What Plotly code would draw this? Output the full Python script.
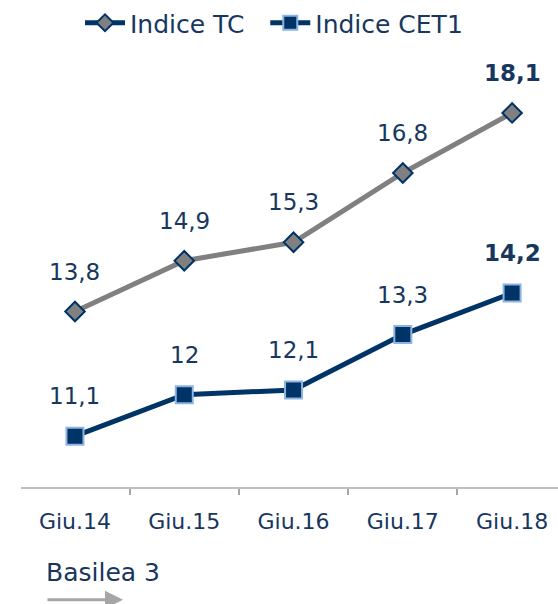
import plotly.graph_objects as go

categories = ["Giu.14", "Giu.15", "Giu.16", "Giu.17", "Giu.18"]
tc_values = [13.8, 14.9, 15.3, 16.8, 18.1]
cet1_values = [11.1, 12.0, 12.1, 13.3, 14.2]
series_names = ["Indice TC", "Indice CET1"]
note_text = "Basilea 3"

NAVY = "#003366"
TEXT = "#17375E"
GRAY = "#808080"
LIGHTBLUE = "#8DB4E2"
FONT = "DejaVu Sans"


def fmt(v):
    return str(int(v)) if float(v).is_integer() else f"{v}".replace(".", ",")


fig = go.Figure()

fig.add_trace(go.Scatter(
    x=categories, y=tc_values, mode="lines+markers", showlegend=False,
    line=dict(color=GRAY, width=5),
    marker=dict(symbol="diamond", size=15, color=GRAY, line=dict(color=NAVY, width=2)),
    hoverinfo="skip"))
fig.add_trace(go.Scatter(
    x=categories, y=cet1_values, mode="lines+markers", showlegend=False,
    line=dict(color=NAVY, width=5),
    marker=dict(symbol="square", size=17, color=NAVY, line=dict(color=LIGHTBLUE, width=2)),
    hoverinfo="skip"))

# legend entries
fig.add_trace(go.Scatter(
    x=[None], y=[None], mode="lines+markers", name=series_names[0] + "\u00a0\u00a0",
    line=dict(color=NAVY, width=5),
    marker=dict(symbol="diamond", size=13, color=GRAY, line=dict(color=NAVY, width=2))))
fig.add_trace(go.Scatter(
    x=[None], y=[None], mode="lines+markers", name=series_names[1],
    line=dict(color=NAVY, width=5),
    marker=dict(symbol="square", size=14, color=NAVY, line=dict(color=LIGHTBLUE, width=2))))

annotations = []
for vals in (tc_values, cet1_values):
    n = len(vals)
    for i, (c, v) in enumerate(zip(categories, vals)):
        last = i == n - 1
        annotations.append(dict(
            x=c, y=v, xref="x", yref="y", text=f"<b>{fmt(v)}</b>" if last else fmt(v),
            showarrow=False, yshift=40,
            font=dict(family=FONT, size=23, color=TEXT)))

# plot area: page x 21..558, page y 57..487
annotations.append(dict(
    xref="paper", yref="paper", x=(44 - 21) / 537, y=(487 - 573) / 430,
    xanchor="left", yanchor="middle", text=note_text, showarrow=False,
    font=dict(family=FONT, size=25, color=TEXT)))
annotations.append(dict(
    xref="paper", yref="paper", x=(123 - 21) / 537, y=(487 - 600) / 430,
    ax=-77, ay=0, axref="pixel", ayref="pixel", text="", showarrow=True,
    arrowhead=2, arrowsize=1.2, arrowwidth=3, arrowcolor="#A6A6A6"))

fig.update_layout(
    width=558, height=604,
    margin=dict(l=21, r=0, t=57, b=117),
    paper_bgcolor="white", plot_bgcolor="white",
    font=dict(family=FONT, color=TEXT),
    showlegend=True,
    legend=dict(orientation="h", x=(80 - 21) / 537, y=1 + (57 - 22) / 430,
                xanchor="left", yanchor="middle",
                font=dict(family=FONT, size=25, color=TEXT),
                itemwidth=40, tracegroupgap=0, bgcolor="rgba(0,0,0,0)"),
    xaxis=dict(type="category", categoryorder="array", categoryarray=categories,
               range=[-0.494, 4.42], tickson="boundaries", ticks="outside",
               ticklen=6, tickwidth=2, tickcolor="#A6A6A6",
               showline=True, linecolor="#BFBFBF", linewidth=2,
               showgrid=False, zeroline=False, ticklabelstandoff=14,
               tickfont=dict(family=FONT, size=22, color=TEXT)),
    yaxis=dict(range=[10, 19.29], visible=False, showgrid=False, zeroline=False),
    annotations=annotations,
)

fig.write_html("out.html", config={"displayModeBar": False},
               post_script="document.body.style.margin='0';document.body.style.overflow='hidden';")
